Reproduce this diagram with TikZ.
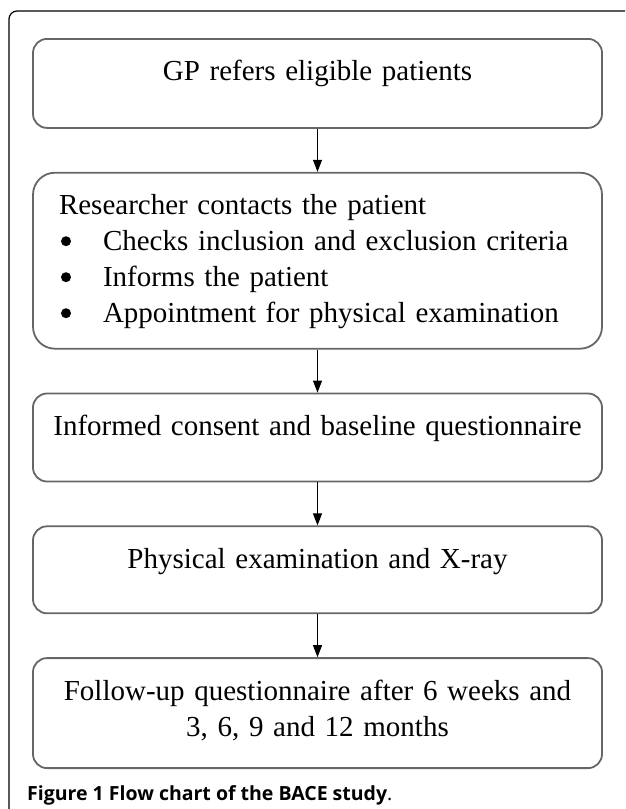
\documentclass[tikz,border=0pt]{standalone}
\usepackage{fontspec}
\setmainfont{Liberation Serif}
\newfontfamily\captionfont{Open Sans}
\usepackage{tikz}
\usetikzlibrary{arrows.meta, positioning}
\newcommand{\stagebullet}{\makebox[44pt][l]{\hspace*{2pt}\tikz[baseline=-9.5pt]\fill (5pt,0pt) circle (5pt);}}

\begin{document}
\begin{tikzpicture}[
	node distance=43pt,
	stagebox/.style={rectangle, draw=black!60, line width=1.8pt, rounded corners=14pt,
		minimum width=569pt, text width=540pt, inner xsep=14.5pt, inner ysep=0pt,
		align=center, font=\fontsize{29}{36}\selectfont, text height=42pt, text depth=#1},
	flowarrow/.style={-{Triangle[width=9pt, length=12pt]}, line width=1pt, black},
	frameline/.style={line width=1.2pt, black, rounded corners=8pt},
	captiontext/.style={anchor=base west, inner sep=0pt, font=\captionfont\fontsize{19.5}{23}\selectfont}
	]
	\useasboundingbox (0pt,0pt) rectangle (625pt,-809pt);
	
	% Figure frame
	\draw[frameline] (625pt,-11pt) -- (9pt,-11pt) -- (9pt,-809pt);
	
	% Steps of the study
	\node[stagebox=47pt, anchor=north] (refer) at (317.5pt,-38pt) {GP refers eligible patients};
	\node[stagebox=134pt, align=left, text width=517pt, inner xsep=26pt, rounded corners=22pt]
		(contact) [below=of refer] {Researcher contacts the patient\\
		\stagebullet Checks inclusion and exclusion criteria\\
		\stagebullet Informs the patient\\
		\stagebullet Appointment for physical examination};
	\node[stagebox=46pt] (consent) [below=of contact] {Informed consent and baseline questionnaire};
	\node[stagebox=45pt] (exam) [below=of consent] {Physical examination and X-ray};
	\node[stagebox=68pt] (followup) [below=of exam] {Follow-up questionnaire after 6 weeks and\\ 3, 6, 9 and 12 months};
	
	% Arrows between the steps
	\draw[flowarrow] (refer) -- (contact);
	\draw[flowarrow] (contact) -- (consent);
	\draw[flowarrow] (consent) -- (exam);
	\draw[flowarrow] (exam) -- (followup);
	
	% Caption
	\node[captiontext] (caption) at (27pt,-800pt) {\textbf{Figure 1 Flow chart of the BACE study}.};
	
\end{tikzpicture}
\end{document}
